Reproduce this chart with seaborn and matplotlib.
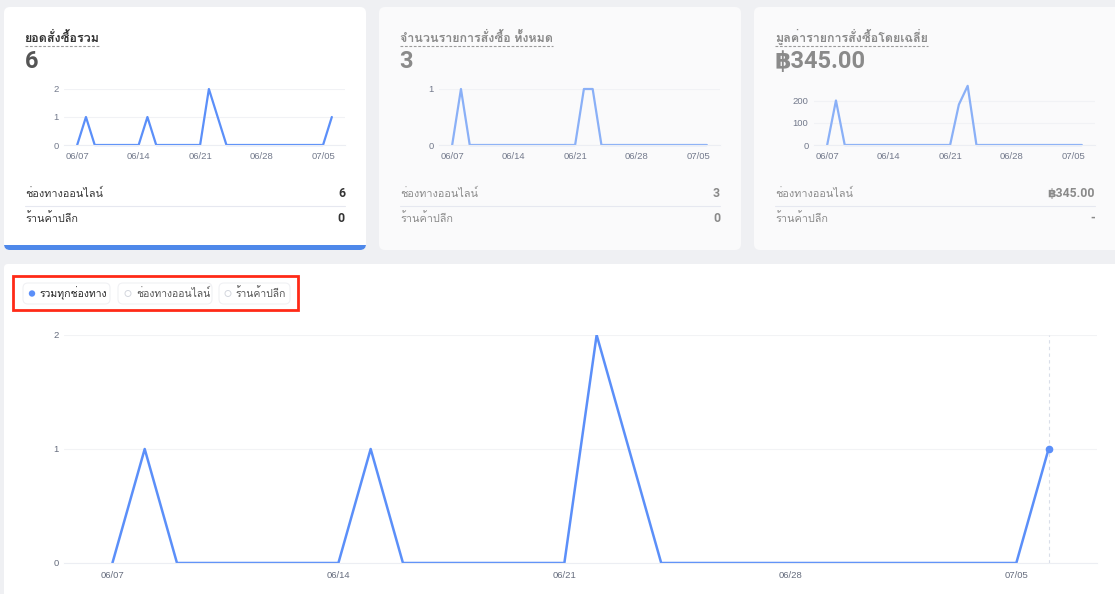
import numpy as np
import pandas as pd
import matplotlib
matplotlib.use("Agg")
import matplotlib.pyplot as plt
import seaborn as sns
from matplotlib import font_manager as fm
from matplotlib.ft2font import FT2Font
from matplotlib.patches import FancyBboxPatch, Rectangle, Circle

# ---------------- data ----------------
day_index = list(range(30))  # 06/07 .. 07/06
tick_pos = [0, 7, 14, 21, 28]
tick_labels = ["06/07", "06/14", "06/21", "06/28", "07/05"]

total_sales = [0, 1, 0, 0, 0, 0, 0, 0, 1, 0, 0, 0, 0, 0, 0,
               2, 1, 0, 0, 0, 0, 0, 0, 0, 0, 0, 0, 0, 0, 1]
order_count = [0, 1, 0, 0, 0, 0, 0, 0, 0, 0, 0, 0, 0, 0, 0,
               1, 1, 0, 0, 0, 0, 0, 0, 0, 0, 0, 0, 0, 0, 0]
avg_value = [0, 200, 0, 0, 0, 0, 0, 0, 0, 0, 0, 0, 0, 0, 0,
             182, 266, 0, 0, 0, 0, 0, 0, 0, 0, 0, 0, 0, 0, 0]

card_titles = ["ยอดสั่งซื้อรวม", "จำนวนรายการสั่งซื้อ ทั้งหมด", "มูลค่ารายการสั่งซื้อโดยเฉลี่ย"]
card_totals = ["6", "3", "฿345.00"]
row_labels = ["ช่องทางออนไลน์", "ร้านค้าปลีก"]
row_values = [["6", "0"], ["3", "0"], ["฿345.00", "-"]]
card_yticks = [[0, 1, 2], [0, 1], [0, 100, 200]]
card_ylims = [(0, 2), (0, 1), (0, 263)]
legend_labels = ["รวมทุกช่องทาง", "ช่องทางออนไลน์", "ร้านค้าปลีก"]

# ---------------- fonts ----------------
sns.set_theme(style="white")
thai_family = None
for f in fm.fontManager.ttflist:
    try:
        cm = FT2Font(f.fname).get_charmap()
        if 0x0E01 in cm and 0x0E48 in cm:
            thai_family = f.name
            break
    except Exception:
        pass
fams = ["Liberation Sans"]
if thai_family:
    fams.append(thai_family)
fams.append("DejaVu Sans")
plt.rcParams["font.family"] = fams
NUM_FAMS = ["Roboto", "DejaVu Sans"] + ([thai_family] if thai_family else [])

W, H = 1115, 594
fig = plt.figure(figsize=(W / 100, H / 100), dpi=100)
fig.patch.set_facecolor("#eff0f3")

bg = fig.add_axes([0, 0, 1, 1], zorder=0)
bg.set_xlim(0, W)
bg.set_ylim(H, 0)
bg.axis("off")


def px_axes(x0, y0, x1, y1, z=2):
    ax = fig.add_axes([x0 / W, 1 - y1 / H, (x1 - x0) / W, (y1 - y0) / H], zorder=z)
    ax.patch.set_alpha(0)
    return ax


BLUE = "#5b8ff9"
FADED = "#8ab0f7"

# ---------------- cards ----------------
card_offsets = [0, 375, 750]
card_series = [total_sales, order_count, avg_value]
for i, off in enumerate(card_offsets):
    active = i == 0
    face = "#ffffff" if active else "#fafafb"
    right = 366 + off if i < 2 else 1125
    card = FancyBboxPatch((4 + off, 7), right - (4 + off), 243,
                          boxstyle="round,pad=0,rounding_size=6",
                          facecolor=face, edgecolor="none", zorder=1)
    bg.add_patch(card)
    if active:
        bar = Rectangle((4 + off, 245), 362, 6, facecolor="#4e88ea",
                        edgecolor="none", zorder=2)
        bg.add_patch(bar)
        bar.set_clip_path(card)
    tcol = "#333333" if active else "#8a8a8a"
    ttl = bg.text(25 + off, 41.5, card_titles[i], fontsize=9, fontweight="bold",
                  color=tcol, va="baseline", ha="left", zorder=3)
    fig.canvas.draw()
    bb = ttl.get_window_extent()
    x_end = bb.x1
    bg.plot([25 + off, x_end], [46, 46], ls=(0, (2.5, 1.5)), lw=0.8,
            color="#9a9a9a", zorder=3)
    bg.text(24.5 + off, 68, card_totals[i], fontsize=17, fontweight="bold",
            family=NUM_FAMS,
            color="#555555" if active else "#8a8a8a", va="baseline", ha="left", zorder=3)
    # rows
    rcol = "#333333" if active else "#8a8a8a"
    for r, ylab in enumerate([197, 222]):
        bg.text(25 + off, ylab, row_labels[r], fontsize=7.8, color=rcol,
                va="baseline", ha="left", zorder=3)
        bg.text(345 + off, ylab, row_values[i][r], fontsize=8.8, fontweight="bold",
                family=NUM_FAMS,
                color=rcol, va="baseline", ha="right", zorder=3)
    bg.plot([25 + off, 345 + off], [206, 206], color="#e6e8f0", lw=0.8, zorder=3)

    # mini chart
    ax = px_axes(64 + off, 89 if i < 2 else 86.5, 345 + off, 145)
    df = pd.DataFrame({"day": day_index, "v": card_series[i]})
    sns.lineplot(data=df, x="day", y="v", ax=ax, color=BLUE if active else FADED,
                 lw=1.6, clip_on=False)
    ax.set_xlim(-1.5, 30.5)
    ax.set_ylim(*card_ylims[i])
    ax.set_yticks(card_yticks[i])
    ax.set_xticks(tick_pos)
    ax.set_xticklabels(tick_labels)
    ax.set_xlabel("")
    ax.set_ylabel("")
    ax.tick_params(axis="both", length=0, labelsize=6.8, labelcolor="#737a8c")
    ax.tick_params(axis="x", pad=5)
    ax.tick_params(axis="y", pad=4)
    ax.grid(axis="y", color="#f1f2f5", lw=0.8)
    for s in ["top", "right", "left"]:
        ax.spines[s].set_visible(False)
    ax.spines["bottom"].set_color("#eceef3")
    ax.spines["bottom"].set_linewidth(0.8)

# ---------------- main panel ----------------
panel = FancyBboxPatch((4, 264), 1125, 340, boxstyle="round,pad=0,rounding_size=4",
                       facecolor="#ffffff", edgecolor="none", zorder=1)
bg.add_patch(panel)

# legend pills
bg.add_patch(Rectangle((13, 276), 285, 34, facecolor="none", edgecolor="#ff2a17",
                       lw=2, zorder=4))
pills = [(23, 110, 32, 40), (118, 212, 128, 136), (219, 290, 228, 236)]
for k, (a, b, dx, tx) in enumerate(pills):
    bg.add_patch(FancyBboxPatch((a, 283), b - a, 21, boxstyle="round,pad=0,rounding_size=5",
                                facecolor="#ffffff", edgecolor="#f0f1f4", lw=0.8, zorder=3))
    if k == 0:
        bg.add_patch(Circle((dx, 293.5), 3.2, facecolor=BLUE, edgecolor="none", zorder=4))
        col = "#222222"
    else:
        bg.add_patch(Circle((dx, 293.5), 3.0, facecolor="none", edgecolor="#d4d7de",
                            lw=0.7, zorder=4))
        col = "#555555"
    bg.text(tx, 297, legend_labels[k], fontsize=7.5, color=col, va="baseline",
            ha="left", zorder=4)

axm = px_axes(64, 335, 1097, 563)
dfm = pd.DataFrame({"day": day_index, "v": total_sales})
sns.lineplot(data=dfm, x="day", y="v", ax=axm, color=BLUE, lw=1.8)
axm.axvline(day_index[-1], color="#d9dee9", lw=0.8, ls=(0, (3, 3)), zorder=1)
axm.plot([day_index[-1]], [total_sales[-1]], "o", color=BLUE, ms=4.5, zorder=5)
axm.set_xlim(-1.5, 30.5)
axm.set_ylim(0, 2)
axm.set_yticks([0, 1, 2])
axm.set_xticks(tick_pos)
axm.set_xticklabels(tick_labels)
axm.set_xlabel("")
axm.set_ylabel("")
axm.tick_params(axis="both", length=0, labelsize=6.8, labelcolor="#666d7e")
axm.tick_params(axis="x", pad=6)
axm.tick_params(axis="y", pad=4)
axm.grid(axis="y", color="#f2f3f5", lw=0.8)
for s in ["top", "right", "left"]:
    axm.spines[s].set_visible(False)
axm.spines["bottom"].set_color("#eceef3")
axm.spines["bottom"].set_linewidth(0.8)

fig.savefig("out.png", dpi=100, facecolor=fig.get_facecolor())
